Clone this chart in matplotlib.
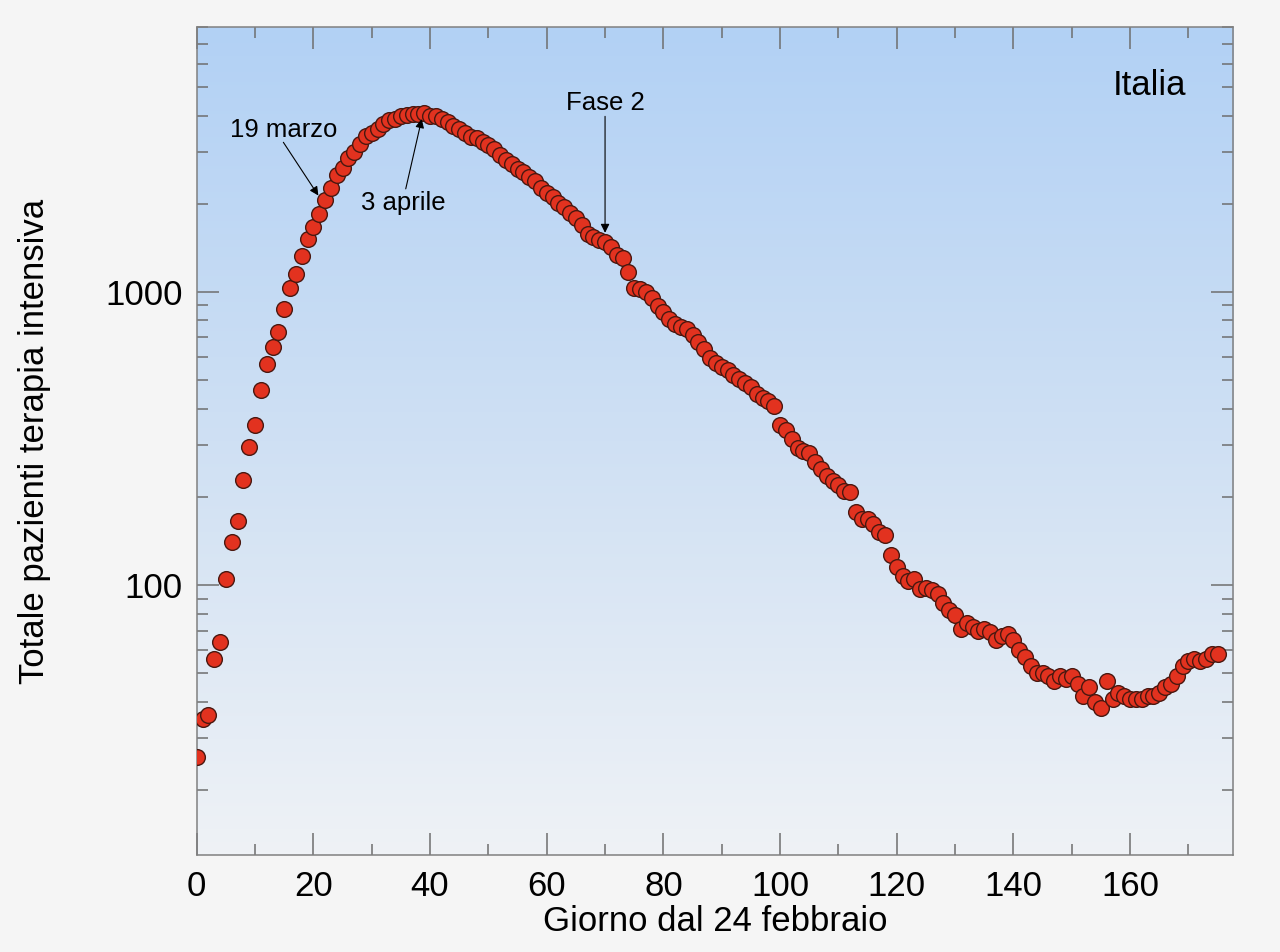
import matplotlib
matplotlib.use('Agg')
import matplotlib.pyplot as plt
import numpy as np
from matplotlib.colors import LinearSegmentedColormap
from matplotlib.ticker import FixedLocator, LogLocator, NullFormatter, MultipleLocator

plt.rcParams['font.family'] = ['Liberation Sans', 'DejaVu Sans']

# totale pazienti in terapia intensiva, giorno 0 = 24 febbraio
icu = [26, 35, 36, 56, 64, 105, 140, 166, 229, 295,
       351, 462, 567, 650, 733, 877, 1028, 1153, 1328, 1518,
       1672, 1851, 2060, 2257, 2498, 2655, 2857, 3009, 3204, 3396,
       3489, 3612, 3732, 3856, 3906, 3981, 4023, 4035, 4053, 4068,
       3994, 3977, 3898, 3792, 3693, 3605, 3497, 3381, 3343, 3260,
       3186, 3079, 2936, 2812, 2733, 2635, 2573, 2471, 2384, 2267,
       2173, 2102, 2009, 1956, 1863, 1795, 1694, 1578, 1539, 1501,
       1479, 1427, 1333, 1311, 1168, 1034, 1027, 999, 952, 893,
       855, 808, 775, 762, 749, 716, 676, 640, 595, 572,
       553, 541, 521, 505, 489, 475, 450, 435, 424, 408,
       353, 338, 316, 293, 287, 283, 263, 249, 236, 227,
       220, 209, 207, 178, 168, 168, 161, 152, 148, 127,
       115, 107, 103, 105, 97, 98, 96, 93, 87, 82,
       79, 71, 74, 72, 70, 71, 69, 65, 67, 68,
       65, 60, 57, 53, 50, 50, 49, 47, 49, 48,
       49, 46, 42, 45, 40, 38, 47, 41, 43, 42,
       41, 41, 41, 42, 42, 43, 45, 46, 49, 53,
       55, 56, 55, 56, 58, 58]
days = np.arange(len(icu))

fig = plt.figure(figsize=(12.8, 9.52), dpi=100, facecolor='#f5f5f5')
rect = [0.1537, 0.1019, 0.8098, 0.8694]

# sfondo sfumato
bg = fig.add_axes(rect, zorder=0)
grad = np.linspace(0, 1, 256).reshape(-1, 1)
cmap = LinearSegmentedColormap.from_list('bg', ['#eff2f6', '#cfe0f3', '#b2d1f5'])
bg.imshow(grad, extent=[0, 1, 0, 1], aspect='auto', cmap=cmap, origin='lower')
bg.set_axis_off()

ax = fig.add_axes(rect, zorder=1)
ax.patch.set_alpha(0)
ax.plot(days, icu, 'o', ms=11.3, mfc='#e2321f', mec='#4a1810', mew=1.0, zorder=3)

ax.set_yscale('log')
ax.set_xlim(0, 177.7)
ax.set_ylim(12, 8000)

ax.xaxis.set_major_locator(MultipleLocator(20))
ax.xaxis.set_minor_locator(MultipleLocator(10))
ax.yaxis.set_major_locator(FixedLocator([100, 1000]))
ax.yaxis.set_minor_locator(LogLocator(base=10, subs=np.arange(2, 10)))
ax.yaxis.set_minor_formatter(NullFormatter())
ax.set_yticklabels(['100', '1000'])

ax.tick_params(which='both', direction='in', top=True, right=True, colors='#6e6e6e',
               labelcolor='black', labelsize=25, width=1.1)
ax.tick_params(which='major', length=15.5)
ax.tick_params(which='minor', length=7.6)
ax.tick_params(axis='x', pad=11)
ax.tick_params(axis='y', pad=10)
for s in ax.spines.values():
    s.set_color('#808080')
    s.set_linewidth(1.1)

ax.set_xlabel('Giorno dal 24 febbraio', fontsize=25)
ax.set_ylabel('Totale pazienti terapia intensiva', fontsize=25)
ax.xaxis.set_label_coords(0.5, -0.061)
ax.yaxis.set_label_coords(-0.141, 0.5)

ax.text(163.4, 5058, 'Italia', fontsize=25, ha='center', va='center')

arrow = dict(arrowstyle='-|>', color='black', lw=0.8, mutation_scale=13, shrinkA=0, shrinkB=0)
ax.text(14.85, 3577, '19 marzo', fontsize=18.5, ha='center', va='center')
ax.annotate('', xy=(20.85, 2134), xytext=(14.85, 3242), arrowprops=arrow)
ax.text(35.5, 2005, '3 aprile', fontsize=18.5, ha='center', va='center')
ax.annotate('', xy=(38.57, 3891), xytext=(35.83, 2249), arrowprops=arrow)
ax.text(70, 4416, 'Fase 2', fontsize=18.5, ha='center', va='center')
ax.annotate('', xy=(70, 1592), xytext=(70, 3975), arrowprops=arrow)

fig.savefig('out.png', dpi=100, facecolor=fig.get_facecolor())
